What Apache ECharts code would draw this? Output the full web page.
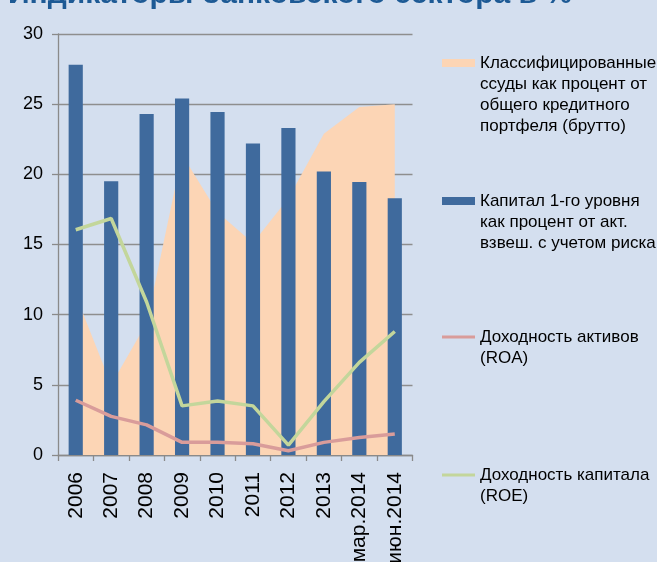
<!DOCTYPE html>
<html>
<head>
<meta charset="utf-8">
<script src="https://cdn.jsdelivr.net/npm/echarts@6/dist/echarts.min.js"></script>
<style>
  html, body { margin: 0; padding: 0; background: #D4DFEF; }
  #main { width: 657px; height: 562px; }
</style>
</head>
<body>
<div id="main"></div>
<script>
var categories = ['2006', '2007', '2008', '2009', '2010', '2011', '2012', '2013', 'мар.2014', 'июн.2014'];
var classifiedLoans = [11.4, 5.0, 9.4, 21.4, 17.3, 15.1, 18.3, 22.9, 24.8, 25.0];
var tier1Capital = [27.8, 19.5, 24.3, 25.4, 24.45, 22.2, 23.3, 20.2, 19.45, 18.3];
var roa = [3.9, 2.75, 2.15, 0.9, 0.9, 0.8, 0.3, 0.9, 1.25, 1.5];
var roe = [16.05, 16.85, 10.9, 3.5, 3.85, 3.5, 0.7, 3.8, 6.6, 8.8];
var yTicks = [0, 5, 10, 15, 20, 25, 30];

var names = [
  'Классифицированные\nссуды как процент от\nобщего кредитного\nпортфеля (брутто)',
  'Капитал 1-го уровня\nкак процент от акт.\nвзвеш. с учетом риска',
  'Доходность активов\n(ROA)',
  'Доходность капитала\n(ROE)'
];
var colors = ['#FCD5B5', '#3F6A9D', '#D99C9A', '#C3D69B'];

var chart = echarts.init(document.getElementById('main'));

// one legend per entry; blank lines above the text keep the icon on the first line
function legendItem(i, iconMid, h) {
  var lines = names[i].split('\n').length;
  var blank = lines - 1;
  var boxTop = iconMid - (2 * lines - 1) * 21 / 2;
  return {
    data: [names[i]],
    left: 442,
    top: boxTop,
    padding: 0,
    orient: 'vertical',
    icon: 'rect',
    itemWidth: 33,
    itemHeight: h,
    selectedMode: false,
    formatter: function (name) {
      return new Array(blank + 1).join('\n') + name;
    },
    textStyle: {
      fontFamily: 'Liberation Sans, Arial, sans-serif',
      fontSize: 17,
      lineHeight: 21,
      color: '#000'
    }
  };
}

var option = {
  backgroundColor: '#D4DFEF',
  animation: false,
  title: {
    text: 'Индикаторы банковского сектора в %',
    left: 8,
    top: -20,
    padding: 0,
    textStyle: {
      fontFamily: 'Liberation Sans, Arial, sans-serif',
      fontSize: 30,
      fontWeight: 'bold',
      color: '#1D5A95'
    }
  },
  legend: [
    legendItem(0, 63, 8),
    legendItem(1, 201, 8),
    legendItem(2, 337, 3),
    legendItem(3, 475, 3)
  ],
  grid: { left: 58, top: 34, width: 354.5, height: 421, outerBoundsMode: 'none', containLabel: false },
  xAxis: {
    type: 'category',
    data: categories,
    boundaryGap: true,
    axisLine: { lineStyle: { color: '#8a8a8a', width: 1.3 } },
    axisTick: { show: true, length: 6, lineStyle: { color: '#8a8a8a', width: 1.3 } },
    axisLabel: {
      rotate: 90,
      margin: 17,
      interval: 0,
      fontFamily: 'Liberation Sans, Arial, sans-serif',
      fontSize: 21,
      color: '#000'
    }
  },
  yAxis: {
    type: 'value',
    min: yTicks[0],
    max: yTicks[yTicks.length - 1],
    interval: 5,
    axisLine: { show: true, lineStyle: { color: '#8a8a8a', width: 1.3 } },
    axisTick: { show: true, length: 6, lineStyle: { color: '#8a8a8a', width: 1.3 } },
    axisLabel: {
      margin: 15,
      fontFamily: 'Liberation Sans, Arial, sans-serif',
      fontSize: 18,
      color: '#000'
    },
    splitLine: { lineStyle: { color: '#8e8e8e', width: 1.3 } }
  },
  series: [
    {
      name: names[0],
      type: 'line',
      data: classifiedLoans,
      color: colors[0],
      symbol: 'none',
      lineStyle: { width: 0, opacity: 0 },
      areaStyle: { color: colors[0], opacity: 1 },
      z: 1
    },
    {
      name: names[1],
      type: 'bar',
      data: tier1Capital,
      color: colors[1],
      barWidth: '40%',
      itemStyle: { color: colors[1] },
      z: 2
    },
    {
      name: names[2],
      type: 'line',
      data: roa,
      color: colors[2],
      symbol: 'none',
      lineStyle: { color: colors[2], width: 3.5 },
      z: 3
    },
    {
      name: names[3],
      type: 'line',
      data: roe,
      color: colors[3],
      symbol: 'none',
      lineStyle: { color: colors[3], width: 3.5 },
      z: 4
    }
  ]
};

chart.setOption(option);
</script>
</body>
</html>
